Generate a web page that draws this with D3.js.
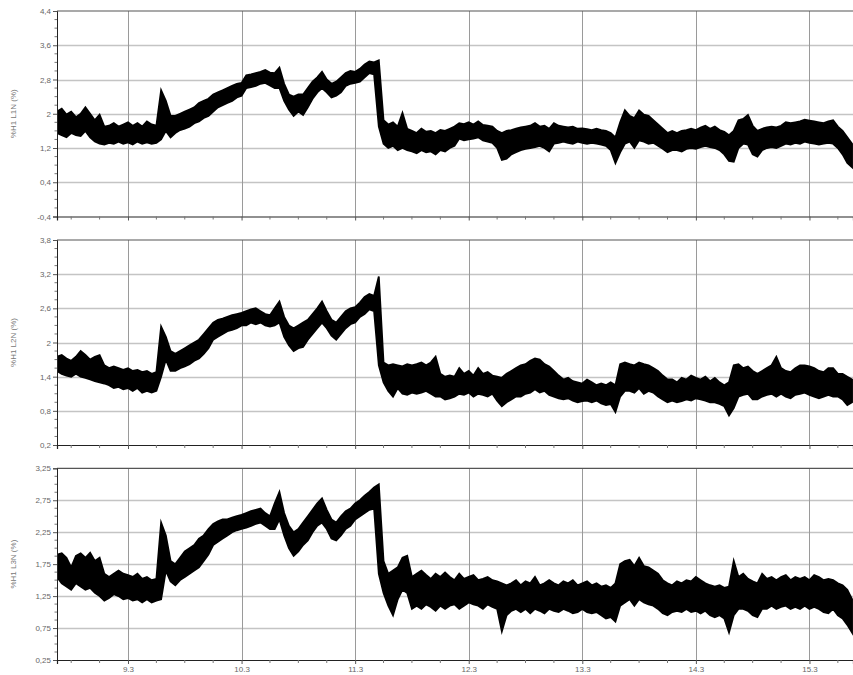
<!DOCTYPE html>
<html>
<head>
<meta charset="utf-8">
<script src="https://cdn.jsdelivr.net/npm/d3@7/dist/d3.min.js"></script>
<style>
  html, body { margin: 0; padding: 0; background: #fff; }
  svg { display: block; font-family: "Liberation Sans", Arial, sans-serif; }
</style>
</head>
<body>
<svg id="chart" width="853" height="675"></svg>
<script>
// Hourly harmonic readings, 8 March 09:00 onwards (one value per hour).
// Each phase is stored as the upper and lower edge of the measured band.
const startTime = new Date(2011, 2, 8, 9, 0);
const endTime = new Date(2011, 2, 15, 9, 12);

const seriesNames = ["%H1 L1N (%)", "%H1 L2N (%)", "%H1 L3N (%)"];

const l1nHigh = [
  2.05, 2.12, 1.98, 2.05, 1.92, 2.0, 2.15, 2.0,
  1.85, 1.98, 1.7, 1.72, 1.78, 1.7, 1.75, 1.8, 1.72, 1.78, 1.7, 1.82, 1.75, 1.72,
  2.55, 2.3, 1.95, 1.95, 2.0, 2.05, 2.1, 2.15, 2.25, 2.3, 2.35, 2.45, 2.5, 2.55, 2.6, 2.65, 2.7, 2.72,
  2.9, 2.92, 2.95, 2.98, 3.02, 2.96, 2.95, 3.08,
  2.7, 2.45, 2.4, 2.45, 2.45, 2.6, 2.75, 2.85, 2.98, 2.8, 2.7, 2.75,
  2.85, 2.95, 3.0, 2.98, 3.05, 3.15, 3.22, 3.2, 3.25,
  1.85, 1.75, 1.8, 1.7, 2.02, 1.65,
  1.6, 1.55, 1.65, 1.58, 1.6, 1.55, 1.62, 1.6, 1.65, 1.7,
  1.78, 1.76, 1.8, 1.75, 1.82, 1.74, 1.72, 1.7,
  1.6, 1.55, 1.6, 1.62, 1.65, 1.68, 1.7, 1.72, 1.78, 1.7, 1.72, 1.65, 1.78, 1.72, 1.7, 1.68, 1.7, 1.65,
  1.66, 1.64, 1.62, 1.65, 1.62, 1.6, 1.55, 1.45,
  1.8, 2.08, 1.95, 1.9, 2.08, 1.98, 1.95, 1.85, 1.75, 1.65, 1.55,
  1.6, 1.55, 1.6, 1.62, 1.65, 1.62, 1.68, 1.72, 1.65, 1.7, 1.62, 1.58, 1.5, 1.6,
  1.85, 1.88, 1.97, 1.72, 1.6, 1.65, 1.68, 1.7, 1.68, 1.72,
  1.8, 1.78, 1.8, 1.82, 1.86, 1.84, 1.82, 1.8, 1.78, 1.82, 1.85, 1.7, 1.6, 1.45, 1.3
];
const l1nLow = [
  1.55, 1.5, 1.45, 1.55, 1.5, 1.48, 1.6, 1.45,
  1.35, 1.3, 1.28, 1.32, 1.3, 1.35, 1.3, 1.33, 1.28, 1.35, 1.3, 1.33, 1.3, 1.32,
  1.4, 1.6, 1.45, 1.55, 1.62, 1.65, 1.7, 1.78, 1.82, 1.9, 1.95, 2.05, 2.15, 2.2, 2.25, 2.3, 2.38, 2.42,
  2.6, 2.62, 2.65, 2.7, 2.72, 2.66, 2.6, 2.6,
  2.3, 2.1, 1.95, 2.05, 1.97, 2.15, 2.35, 2.5, 2.6, 2.5, 2.38, 2.42,
  2.5, 2.65, 2.7, 2.72, 2.75, 2.85, 2.95, 2.92, 1.7,
  1.3, 1.2, 1.25, 1.15, 1.2, 1.15,
  1.12, 1.08, 1.15, 1.1, 1.12, 1.05, 1.15, 1.12, 1.2, 1.25,
  1.42, 1.38, 1.4, 1.42, 1.45, 1.38, 1.35, 1.32,
  1.2, 0.92, 0.95, 1.05, 1.1, 1.15, 1.18, 1.2, 1.22, 1.25, 1.2, 1.12, 1.3, 1.32, 1.35, 1.32, 1.3, 1.35,
  1.32, 1.3, 1.32, 1.3, 1.28, 1.25, 1.15, 0.85,
  1.1, 1.3, 1.35, 1.2, 1.38, 1.35, 1.3, 1.32, 1.25, 1.18, 1.1,
  1.15, 1.15, 1.12, 1.18, 1.2, 1.18, 1.22, 1.25, 1.22, 1.2, 1.15, 1.05, 0.9, 0.88,
  1.2, 1.3, 1.28, 1.05, 1.0, 1.15, 1.2, 1.22, 1.2, 1.25,
  1.3, 1.28, 1.32, 1.3, 1.35, 1.32, 1.3, 1.28, 1.3, 1.32, 1.3, 1.2, 1.05, 0.85, 0.75
];

const l2nHigh = [
  1.75, 1.78, 1.72, 1.68, 1.75, 1.85, 1.78, 1.7, 1.75, 1.78,
  1.6, 1.55, 1.58, 1.55, 1.52, 1.55, 1.5, 1.52, 1.48, 1.5, 1.45, 1.48,
  2.28, 2.1, 1.85, 1.8, 1.85, 1.9, 1.95, 2.0, 2.05, 2.15, 2.25, 2.35, 2.4, 2.42, 2.45, 2.48, 2.5, 2.52,
  2.55, 2.58, 2.6, 2.55, 2.5, 2.48, 2.6, 2.72,
  2.45, 2.3, 2.25, 2.3, 2.35, 2.4, 2.5, 2.6, 2.72, 2.55, 2.4, 2.35,
  2.45, 2.55, 2.6, 2.62, 2.7, 2.8, 2.85, 2.82, 3.16,
  1.65, 1.6, 1.62, 1.6, 1.58, 1.62, 1.6, 1.62, 1.65, 1.6, 1.65, 1.75, 1.45, 1.4, 1.42, 1.4,
  1.55, 1.45, 1.5, 1.42, 1.55, 1.45, 1.48, 1.42,
  1.4, 1.38, 1.45, 1.5, 1.55, 1.6, 1.62, 1.68, 1.72, 1.7, 1.62, 1.58, 1.5, 1.42,
  1.35, 1.38, 1.32, 1.3, 1.28, 1.35, 1.3, 1.25, 1.28, 1.25, 1.3, 1.25,
  1.62, 1.65, 1.62, 1.6, 1.65, 1.62, 1.6, 1.55, 1.5, 1.42, 1.35,
  1.35, 1.3, 1.38, 1.35, 1.42, 1.38, 1.35, 1.4, 1.32, 1.38, 1.3, 1.25, 1.3, 1.6,
  1.62, 1.55, 1.58, 1.5, 1.45, 1.5, 1.55, 1.6, 1.75, 1.55,
  1.5, 1.48, 1.55, 1.6, 1.6, 1.58, 1.55, 1.5, 1.48, 1.55, 1.55, 1.45, 1.45, 1.4, 1.35
];
const l2nLow = [
  1.5, 1.45, 1.42, 1.4, 1.45, 1.4, 1.38, 1.35, 1.32, 1.3,
  1.28, 1.25, 1.2, 1.22, 1.18, 1.2, 1.15, 1.2, 1.12, 1.15, 1.12, 1.15,
  1.4, 1.7, 1.5, 1.5, 1.55, 1.58, 1.62, 1.68, 1.72, 1.8, 1.9, 2.05, 2.1, 2.15, 2.2, 2.22, 2.25, 2.3,
  2.3, 2.35, 2.32, 2.35, 2.3, 2.28, 2.3, 2.35,
  2.1, 1.95, 1.85, 1.9, 1.92, 2.05, 2.15, 2.25, 2.35, 2.25, 2.12, 2.05,
  2.15, 2.25, 2.32, 2.35, 2.45, 2.5, 2.58, 2.55, 1.6,
  1.3, 1.15, 1.05, 1.2, 1.1, 1.08, 1.12, 1.1, 1.12, 1.15, 1.1, 1.05, 1.05, 1.0, 1.02, 1.05,
  1.1, 1.08, 1.12, 1.05, 1.1, 1.08, 1.05, 1.1,
  0.98, 0.88, 0.95, 1.0, 1.05, 1.05, 1.1, 1.12, 1.18, 1.12, 1.15, 1.08, 1.05, 1.02,
  1.0, 1.02, 0.98, 0.95, 0.97, 0.98, 0.95, 0.98, 0.93, 0.9, 0.92, 0.78,
  1.05, 1.15, 1.15, 1.12, 1.2, 1.1, 1.15, 1.12, 1.05, 1.0, 0.95,
  0.98, 0.95, 0.97, 1.0, 0.98, 1.02, 1.0, 0.98, 0.95, 0.95, 0.92, 0.88, 0.72, 0.85,
  1.05, 1.08, 1.1, 1.0, 1.0, 1.05, 1.08, 1.1, 1.05, 1.1,
  1.05, 1.02, 1.08, 1.1, 1.12, 1.08, 1.05, 1.02, 1.05, 1.08, 1.05, 1.05, 1.0, 0.9, 0.95
];

const l3nHigh = [
  1.9, 1.92, 1.85, 1.7, 1.88, 1.92, 1.85, 1.93, 1.8, 1.85,
  1.6, 1.55, 1.6, 1.65, 1.6, 1.58, 1.55, 1.6, 1.52, 1.55, 1.5, 1.52,
  2.4, 2.2, 1.8, 1.75, 1.85, 1.95, 2.0, 2.05, 2.15, 2.2, 2.3, 2.38, 2.42, 2.45, 2.45, 2.48, 2.5, 2.52,
  2.55, 2.58, 2.6, 2.62, 2.55, 2.5, 2.7, 2.88,
  2.55, 2.35, 2.25, 2.3, 2.4, 2.5, 2.6, 2.7, 2.78, 2.6, 2.45, 2.4,
  2.5, 2.58, 2.62, 2.7, 2.75, 2.82, 2.88, 2.95, 3.0,
  1.8, 1.6, 1.65, 1.7, 1.85, 1.88,
  1.55, 1.6, 1.65, 1.58, 1.52, 1.6, 1.55, 1.62, 1.55, 1.5, 1.6, 1.52, 1.55, 1.58, 1.5, 1.52, 1.55, 1.5, 1.48,
  1.45,
  1.42, 1.45, 1.5, 1.42, 1.48, 1.45, 1.55, 1.42, 1.45, 1.5, 1.45, 1.42, 1.48, 1.45, 1.5, 1.42, 1.45, 1.48, 1.42, 1.45, 1.4, 1.42, 1.38,
  1.45, 1.75, 1.8, 1.82, 1.72, 1.85, 1.72, 1.7, 1.65, 1.6, 1.5,
  1.45, 1.42, 1.48, 1.45, 1.5, 1.48, 1.55, 1.5, 1.45, 1.42, 1.4, 1.42, 1.38, 1.4,
  1.8, 1.55, 1.6, 1.52, 1.48, 1.45, 1.6, 1.52, 1.55, 1.5, 1.55, 1.58, 1.5, 1.55, 1.52, 1.55, 1.5, 1.58, 1.55, 1.5, 1.52, 1.5, 1.45, 1.42, 1.35, 1.2
];
const l3nLow = [
  1.55, 1.45, 1.4, 1.35, 1.45, 1.4, 1.35, 1.38, 1.3, 1.25,
  1.18, 1.22, 1.28, 1.25, 1.2, 1.22, 1.18, 1.2, 1.15, 1.2, 1.15, 1.18,
  1.2, 1.65, 1.48, 1.42, 1.5, 1.55, 1.6, 1.65, 1.7, 1.8, 1.9, 2.05, 2.1, 2.15, 2.2, 2.25, 2.28, 2.3,
  2.32, 2.35, 2.38, 2.4, 2.35, 2.3, 2.3, 2.45,
  2.2, 2.0, 1.88, 1.95, 2.05, 2.12, 2.25, 2.35, 2.4, 2.3, 2.15, 2.12,
  2.2, 2.3, 2.35, 2.45, 2.5, 2.55, 2.6, 2.62, 1.6,
  1.3, 1.1, 0.95, 1.2, 1.35, 1.3,
  1.05, 1.1, 1.05, 1.12, 1.08, 1.02, 1.1, 1.05, 1.1, 1.12, 1.05, 1.1, 1.15, 1.12, 1.1, 1.05, 1.12, 1.08, 1.05,
  0.7,
  0.95, 1.02, 1.05, 1.0, 1.05, 0.98, 1.05, 1.02, 0.98, 1.05, 1.02, 1.0, 1.05, 1.02, 0.98, 1.0, 1.05, 1.0, 0.98, 1.0, 0.95, 0.9, 0.92,
  0.85, 1.1, 1.15, 1.2, 1.1, 1.2, 1.15, 1.12, 1.1, 1.05, 0.98,
  0.95, 1.0, 1.02, 1.0, 1.05, 1.0, 1.02, 0.98, 1.02, 0.95, 0.92, 0.95, 0.9, 0.68,
  0.95, 1.05, 1.05, 1.02, 0.95, 0.92, 1.05, 1.05, 1.1, 1.05, 1.08, 1.1, 1.05, 1.08, 1.05, 1.1, 1.05, 1.08, 1.05, 1.0, 0.98, 1.05, 0.95, 0.9, 0.8, 0.68
];

// Value-axis tick labels per panel
const l1nTicks = [-0.4, 0.4, 1.2, 2, 2.8, 3.6, 4.4];
const l2nTicks = [0.2, 0.8, 1.4, 2, 2.6, 3.2, 3.8];
const l3nTicks = [0.25, 0.75, 1.25, 1.75, 2.25, 2.75, 3.25];

const panels = [
  { name: seriesNames[0], high: l1nHigh, low: l1nLow, ticks: l1nTicks, top: 11, bottom: 216.5 },
  { name: seriesNames[1], high: l2nHigh, low: l2nLow, ticks: l2nTicks, top: 240, bottom: 445 },
  { name: seriesNames[2], high: l3nHigh, low: l3nLow, ticks: l3nTicks, top: 468.3, bottom: 660 }
];

const left = 57, right = 853;
const svg = d3.select("#chart");

const locale = d3.formatLocale({ decimal: ",", thousands: ".", grouping: [3], currency: ["", " €"], minus: "-" });
const fmtNum = locale.format("~g");
const fmtDay = d3.timeFormat("%-d.%-m");

const x = d3.scaleTime().domain([startTime, endTime]).range([left, right]);
const dayTicks = d3.timeDay.range(d3.timeDay.ceil(startTime), endTime);
const minorX = d3.timeHour.every(6).range(startTime, endTime);

panels.forEach((p, pi) => {
  const ticks = p.ticks;
  const y = d3.scaleLinear().domain([ticks[0], ticks[ticks.length - 1]]).range([p.bottom, p.top]);
  const g = svg.append("g");

  // horizontal gridlines
  g.selectAll("line.hgrid").data(ticks.slice(1, -1)).join("line")
    .attr("x1", left).attr("x2", right)
    .attr("y1", d => Math.round(y(d)) + 0.5).attr("y2", d => Math.round(y(d)) + 0.5)
    .attr("stroke", "#c4c4c4").attr("stroke-width", 1.3);

  // vertical day gridlines
  g.selectAll("line.vgrid").data(dayTicks).join("line")
    .attr("x1", d => Math.round(x(d)) + 0.5).attr("x2", d => Math.round(x(d)) + 0.5)
    .attr("y1", p.top).attr("y2", p.bottom)
    .attr("stroke", "#9a9a9a").attr("stroke-width", 1);

  // top frame line
  g.append("line").attr("x1", left).attr("x2", right)
    .attr("y1", p.top).attr("y2", p.top)
    .attr("stroke", "#555").attr("stroke-width", 1.2);

  // measured band between the hourly low and high readings
  const clipId = "clip" + pi;
  svg.append("clipPath").attr("id", clipId).append("rect")
    .attr("x", left).attr("y", p.top).attr("width", right - left).attr("height", p.bottom - p.top);
  const timeAt = i => d3.timeHour.offset(startTime, i);
  const area = d3.area()
    .x((d, i) => x(timeAt(i)))
    .y0((d, i) => y(p.low[i]))
    .y1((d, i) => y(p.high[i]));
  g.append("path").datum(p.high)
    .attr("clip-path", `url(#${clipId})`)
    .attr("d", area)
    .attr("fill", "#000").attr("stroke", "#000").attr("stroke-width", 1.8)
    .attr("stroke-linejoin", "miter").attr("stroke-miterlimit", 6);

  // value axis
  const minorY = [];
  for (let k = 0; k < ticks.length - 1; k++) {
    const step = (ticks[k + 1] - ticks[k]) / 4;
    for (let m = 1; m < 4; m++) minorY.push(ticks[k] + step * m);
  }
  const yAxis = d3.axisLeft(y).tickValues(ticks).tickFormat(fmtNum).tickSize(4).tickPadding(2);
  const ya = g.append("g").attr("transform", `translate(${left},0)`).call(yAxis);
  ya.select(".domain").attr("stroke", "#222");
  ya.selectAll(".tick line").attr("stroke", "#555");
  ya.selectAll("text").attr("fill", "#666").attr("font-size", 8);
  g.append("g").selectAll("line").data(minorY).join("line")
    .attr("x1", left - 2.5).attr("x2", left)
    .attr("y1", d => y(d)).attr("y2", d => y(d))
    .attr("stroke", "#777");

  // time axis
  const xAxis = d3.axisBottom(x).tickValues(dayTicks).tickFormat(pi === 2 ? fmtDay : "").tickSize(4).tickPadding(2);
  const xa = g.append("g").attr("transform", `translate(0,${p.bottom})`).call(xAxis);
  xa.select(".domain").attr("stroke", "#222").attr("stroke-width", 1.2);
  xa.selectAll(".tick line").attr("stroke", "#555");
  xa.selectAll("text").attr("fill", "#666").attr("font-size", 8);
  g.append("g").selectAll("line").data(minorX.filter(t => t.getHours() !== 0)).join("line")
    .attr("x1", d => x(d)).attr("x2", d => x(d))
    .attr("y1", p.bottom).attr("y2", p.bottom + 3)
    .attr("stroke", "#777");

  // axis title
  g.append("text")
    .attr("transform", `translate(16,${(p.top + p.bottom) / 2}) rotate(-90)`)
    .attr("text-anchor", "middle")
    .attr("fill", "#777").attr("font-size", 8)
    .text(p.name);
});
</script>
</body>
</html>
